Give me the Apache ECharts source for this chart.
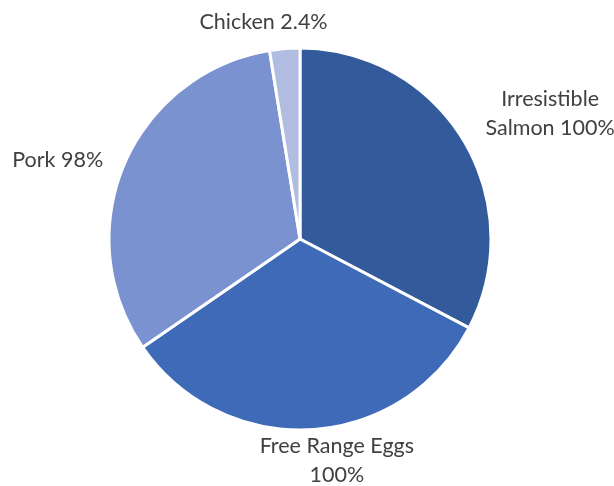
<!DOCTYPE html>
<html><head><meta charset="utf-8">
<script src="https://cdn.jsdelivr.net/npm/echarts@6/dist/echarts.min.js"></script>
<style>html,body{margin:0;padding:0;background:#fff}#c{width:614px;height:486px}</style>
</head><body><div id="c"></div>
<script>
const categories = ['Irresistible Salmon', 'Free Range Eggs', 'Pork', 'Chicken'];
const values = [100, 100, 98, 7.8];
const valueLabels = ['100%', '100%', '98%', '2.4%'];
const labelNames = ['Irresistible\nSalmon', 'Free Range Eggs', 'Pork', 'Chicken'];
const labelSeparators = [' ', '\n', ' ', ' '];
const colors = ['#335A9A', '#3F6AB7', '#7A92CF', '#B1BDE0'];

const CX = 300, CY = 239, R = 191, GAP = 12;
// label fine-tuning (styling only)
const labelNudges = [[16, 16], [23, -11], [-12, 19], [-19, 1]];
const total = values.reduce((a, b) => a + b, 0);

const chart = echarts.init(document.getElementById('c'));
chart.setOption({
  animation: false,
  backgroundColor: '#ffffff',
  series: [{
    type: 'pie',
    center: [CX, CY],
    radius: R,
    startAngle: 90,
    clockwise: true,
    data: categories.map((c, i) => ({
      name: c,
      value: values[i],
      itemStyle: { color: colors[i] }
    })),
    itemStyle: { borderColor: '#ffffff', borderWidth: 3 },
    label: {
      show: true,
      position: 'outside',
      overflow: 'none',
      fontFamily: 'Lato',
      fontSize: 21.5,
      lineHeight: 29,
      color: '#404040',
      formatter: p => labelNames[p.dataIndex] + labelSeparators[p.dataIndex] + valueLabels[p.dataIndex]
    },
    labelLine: { show: false },
    emphasis: { disabled: true },
    labelLayout: function (p) {
      const i = p.dataIndex;
      let before = 0;
      for (let j = 0; j < i; j++) before += values[j];
      const mid = (before + values[i] / 2) / total * 2 * Math.PI;
      const sx = Math.sin(mid), sy = -Math.cos(mid);
      const hw = p.labelRect.width / 2, hh = p.labelRect.height / 2;
      let d = 0;
      for (; d < R + 400; d += 0.5) {
        const x = sx * d, y = sy * d;
        const nearX = (x - hw <= 0 && x + hw >= 0) ? 0 : Math.min(Math.abs(x - hw), Math.abs(x + hw));
        const nearY = (y - hh <= 0 && y + hh >= 0) ? 0 : Math.min(Math.abs(y - hh), Math.abs(y + hh));
        if (Math.hypot(nearX, nearY) >= R + GAP) break;
      }
      return {
        x: CX + sx * d + labelNudges[i][0],
        y: CY + sy * d + labelNudges[i][1],
        align: 'center', verticalAlign: 'middle'
      };
    }
  }]
});
</script></body></html>
